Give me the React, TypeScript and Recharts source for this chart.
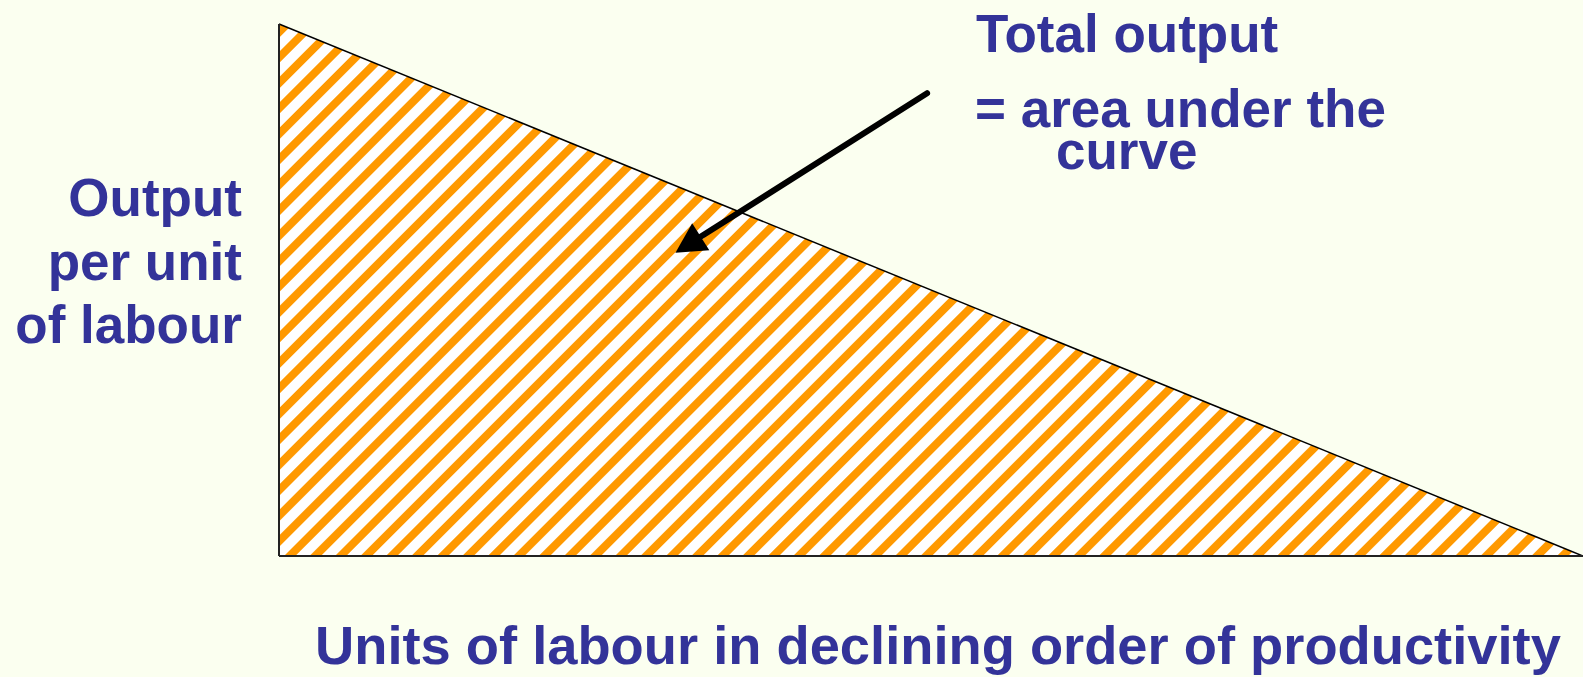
import { Area, AreaChart, ReferenceLine, XAxis, YAxis } from "recharts";

// output per unit of labour, falling linearly as less productive units are added
const labourUnits = [0, 1];
const outputPerUnit = [1, 0];

// arrow pointing into the shaded area
const arrowFrom = { x: 0.497, y: 0.87 };
const arrowTo = { x: 0.304, y: 0.57 };

const noteLines = ["Total output", "= area under the", "curve"];
const yLabelLines = ["Output", "per unit", "of labour"];
const xLabel = "Units of labour in declining order of productivity";

const data = labourUnits.map((x, i) => ({ x, y: outputPerUnit[i] }));

const BG = "#fbfff0";
const TEXT = "#333399";
const FONT = "'Liberation Sans', Arial, sans-serif";

const ArrowShape = (props: any) => {
  const { x1, y1, x2, y2 } = props;
  if ([x1, y1, x2, y2].some((v) => typeof v !== "number")) return null;
  const dx = x2 - x1;
  const dy = y2 - y1;
  const len = Math.sqrt(dx * dx + dy * dy);
  const ux = dx / len;
  const uy = dy / len;
  const headLen = 30;
  const halfW = 16;
  const bx = x2 - ux * headLen;
  const by = y2 - uy * headLen;
  const pts = [
    `${x2},${y2}`,
    `${bx - uy * halfW},${by + ux * halfW}`,
    `${bx + uy * halfW},${by - ux * halfW}`,
  ].join(" ");
  return (
    <g>
      <line
        x1={x1}
        y1={y1}
        x2={bx + ux * 4}
        y2={by + uy * 4}
        stroke="#000"
        strokeWidth={6}
        strokeLinecap="round"
      />
      <polygon points={pts} fill="#000" />
    </g>
  );
};

export default function App() {
  return (
    <div
      style={{
        position: "fixed",
        top: 0,
        left: 0,
        width: 1583,
        height: 677,
        background: BG,
        overflow: "hidden",
      }}
    >
      <AreaChart
        width={1583}
        height={677}
        data={data}
        margin={{ top: 24, right: 0, left: 279, bottom: 121 }}
      >
        <defs>
          <pattern
            id="hatch"
            patternUnits="userSpaceOnUse"
            width={18}
            height={18}
            patternTransform="rotate(45)"
          >
            <rect width={18} height={18} fill="#ffffff" />
            <rect width={8} height={18} fill="#ff9900" />
          </pattern>
        </defs>
        <XAxis dataKey="x" type="number" domain={[0, 1]} hide />
        <YAxis type="number" domain={[0, 1]} hide />
        <Area
          type="linear"
          dataKey="y"
          stroke="#000"
          strokeWidth={1.5}
          fill="url(#hatch)"
          fillOpacity={1}
          dot={false}
          activeDot={false}
          isAnimationActive={false}
        />
        <ReferenceLine x={0} stroke="#222" strokeWidth={2} ifOverflow="visible" />
        <ReferenceLine y={0} stroke="#222" strokeWidth={2} ifOverflow="visible" />
        <ReferenceLine
          segment={[arrowFrom, arrowTo]}
          ifOverflow="visible"
          shape={<ArrowShape />}
        />
      </AreaChart>
      <svg
        width={1583}
        height={677}
        style={{ position: "absolute", top: 0, left: 0, pointerEvents: "none" }}
      >
        <g fontFamily={FONT} fontWeight="bold" fill={TEXT} fontSize={53}>
          <text x={976} y={52}>{noteLines[0]}</text>
          <text x={975} y={127}>{noteLines[1]}</text>
          <text x={1056} y={169}>{noteLines[2]}</text>
          {yLabelLines.map((t, i) => (
            <text key={t} x={242} y={216 + i * 63.5} textAnchor="end">
              {t}
            </text>
          ))}
          <text x={315} y={664} fontSize={54.3}>{xLabel}</text>
        </g>
      </svg>
    </div>
  );
}
